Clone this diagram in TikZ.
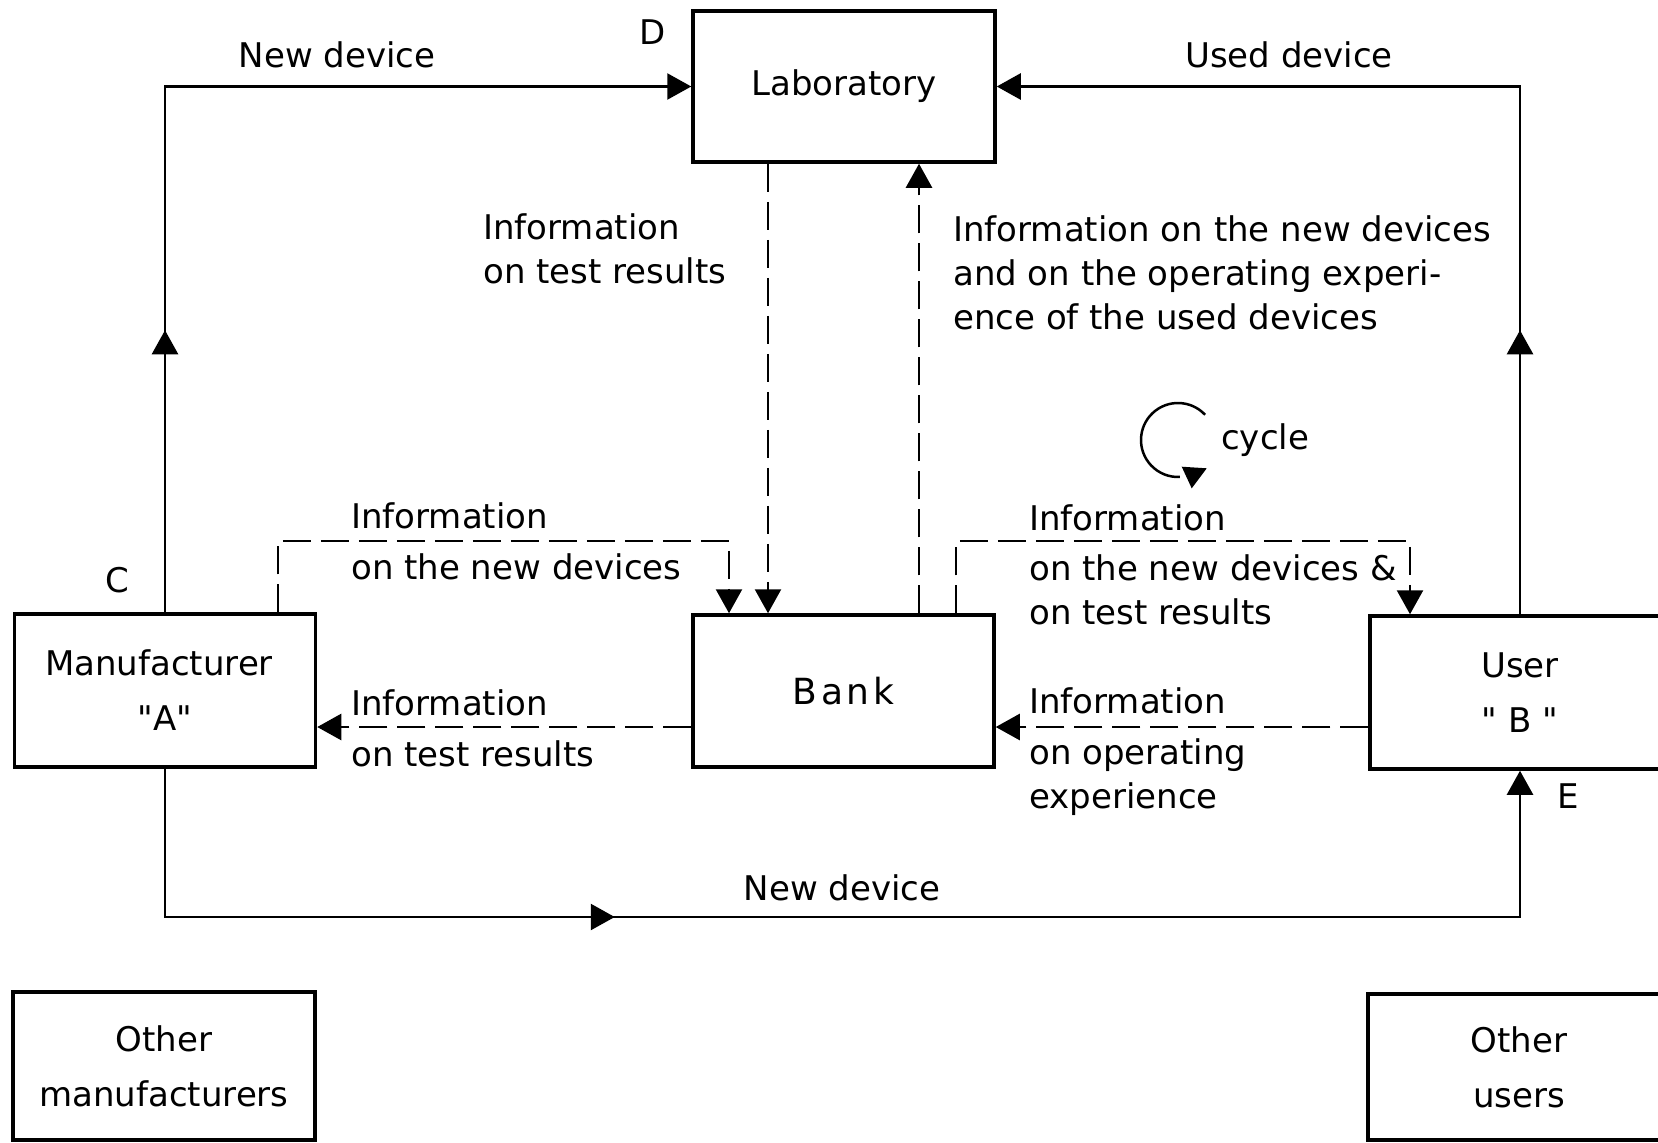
\documentclass[tikz,border=0pt]{standalone}
\usepackage{fontspec}
\setmainfont{DejaVu Sans}
\newfontfamily\bankfont[LetterSpace=10]{DejaVu Sans}
\newfontfamily\qfont[Ligatures=TeXOff]{DejaVu Sans}
\newcommand{\sq}{{\qfont\symbol{34}}}
\usetikzlibrary{arrows.meta,decorations.markings}
\begin{document}
\begin{tikzpicture}[x=1pt,y=-1pt,
  box/.style={draw, line width=3.5pt, rectangle, inner sep=0pt, align=center,
    font=\fontsize{34}{55}\selectfont},
  flow/.style={line width=2.5pt, -{Triangle[length=24pt,width=26pt]}},
  info/.style={flow, dash pattern=on 28pt off 10pt},
  lbl/.style={inner sep=0pt, anchor=west, align=left, font=\fontsize{34}{44}\selectfont},
  letter/.style={inner sep=0pt, font=\fontsize{34}{44}\selectfont},
  midarrow/.style={postaction={decorate}, decoration={markings,
    mark=at position #1 with {\arrow{Triangle[length=24pt,width=26pt]}}}},
]
\useasboundingbox (0,0) rectangle (1658,1143);

% boxes
\node[box, minimum width=302pt, minimum height=151pt] (lab) at (844,86.5) {Laboratory};
\node[box, minimum width=301pt, minimum height=152pt] (bank) at (843.5,691) {\bankfont\fontsize{36}{44}\selectfont Bank};
\node[box, minimum width=301pt, minimum height=153pt] (manu) at (165,690.5) {Manufacturer\hspace*{12pt}\\\sq A\sq};
\node[box, minimum width=300pt, minimum height=153pt] (user) at (1520,692.5) {User\\\sq\ B \sq};
\node[box, minimum width=302pt, minimum height=148pt] (omanu) at (164,1066) {Other\\manufacturers};
\node[box, minimum width=302pt, minimum height=146pt] (ouser) at (1519,1067) {Other\\users};

% helper coordinates
\coordinate (xa) at (278,0);
\coordinate (xb) at (729,0);
\coordinate (xc) at (768,0);
\coordinate (xd) at (919,0);
\coordinate (xe) at (956,0);
\coordinate (xf) at (1410,0);
\coordinate (ytop) at (0,541);
\coordinate (ymid) at (0,727);
\coordinate (bot) at (842,917);

% solid device flows
\draw[flow, midarrow=282pt] (manu.north) |- (lab.west);
\draw[flow, midarrow=284pt] (user.north) |- (lab.east);
\draw[flow, midarrow=598pt] (manu.south) |- (bot) -| (user.south);

% dashed information flows
\draw[info] (lab.south -| xc) -- (bank.north -| xc);
\draw[info] (bank.north -| xd) -- (lab.south -| xd);
\draw[info] (manu.north -| xa) -- (xa |- ytop) -- (xb |- ytop) -- (bank.north -| xb);
\draw[info] (bank.north -| xe) -- (xe |- ytop) -- (xf |- ytop) -- (user.north -| xf);
\draw[info] (bank.west |- ymid) -- (manu.east |- ymid);
\draw[info] (user.west |- ymid) -- (bank.east |- ymid);

% cycle symbol
\coordinate (cyc) at (1178,440);
\draw[line width=2.5pt] (cyc) ++(43:37pt) arc[start angle=43, end angle=273, radius=37pt];
\fill (1181.7,466.7) -- (1206.7,468.3) -- (1191.7,488.3) -- cycle;
\node[lbl] (tcyc) at (1221,440) {cycle};

% labels
\node[letter] (tD) at (653,32) {D};
\node[letter] (tC) at (117,580) {C};
\node[letter] (tE) at (1568,796) {E};
\node[letter] (tnd1) at (337,55) {New device};
\node[letter] (tud) at (1289,55) {Used device};
\node[letter] (tnd2) at (842,888) {New device};
\node[lbl] (l1) at (483,248.5) {Information\\on test results};
\node[lbl] (l2) at (953,273) {Information on the new devices\\and on the operating experi-\\ence of the used devices};
\node[lbl] (l3) at (351,541) {Information\\[7pt]on the new devices};
\node[lbl] (l4) at (351,728.5) {Information\\[7pt]on test results};
\node[lbl] (l5) at (1029,565) {Information\\[6pt]on the new devices \&\\on test results};
\node[lbl] (l6) at (1029,752) {Information\\[7pt]on operating\\experience};
\end{tikzpicture}
\end{document}
